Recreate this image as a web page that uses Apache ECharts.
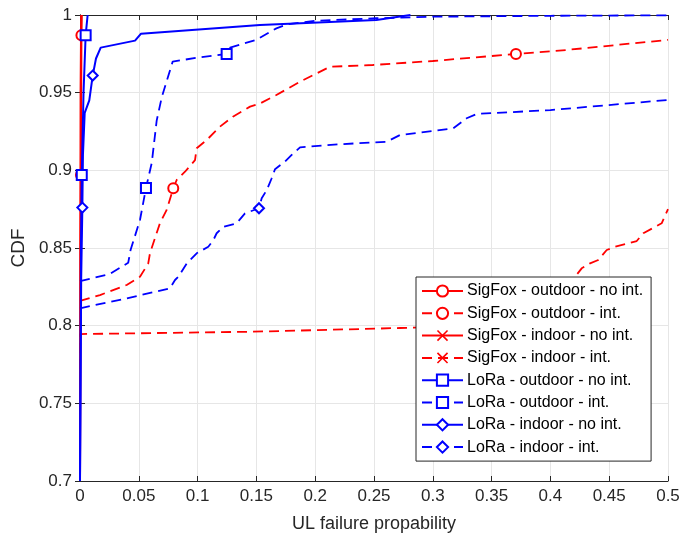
<!DOCTYPE html>
<html>
<head>
<meta charset="utf-8">
<script src="https://cdn.jsdelivr.net/npm/echarts@6.0.0/dist/echarts.min.js"></script>
<style>
  html, body { margin: 0; padding: 0; background: #fff; }
  #chart { width: 683px; height: 538px; }
</style>
</head>
<body>
<div id="chart"></div>
<script>
// values
const names = [
  'SigFox - outdoor - no int.',
  'SigFox - outdoor - int.',
  'SigFox - indoor - no int.',
  'SigFox - indoor - int.',
  'LoRa - outdoor - no int.',
  'LoRa - outdoor - int.',
  'LoRa - indoor - no int.',
  'LoRa - indoor - int.'
];

const sfOutNoIntX = [0, 0.0004, 0.0008, 0.001, 0.0012, 0.0015];
const sfOutNoIntY = [0.7, 0.85, 0.897, 0.95, 0.987, 1];
const sfOutNoIntMarks = [2, 4];

const sfOutIntX = [0, 0.017, 0.0397, 0.051, 0.058, 0.0595, 0.0652, 0.068, 0.0737, 0.0793, 0.0822, 0.0893, 0.0978, 0.0992, 0.1077, 0.119, 0.130, 0.1446, 0.153, 0.167, 0.187, 0.2126, 0.249, 0.300, 0.3707, 0.414, 0.5];
const sfOutIntY = [0.8159, 0.8197, 0.8262, 0.8315, 0.840, 0.8466, 0.8597, 0.866, 0.8745, 0.8884, 0.8938, 0.8991, 0.9066, 0.9142, 0.9195, 0.9281, 0.9345, 0.941, 0.943, 0.9485, 0.957, 0.9667, 0.9678, 0.9704, 0.9749, 0.9775, 0.984];
const sfOutIntMarks = [9, 24];

const sfInNoIntX = [0, 0.0005, 0.001];
const sfInNoIntY = [0.7, 0.95, 1];
const sfInNoIntMarks = [];

const sfInIntX = [0, 0, 0.147, 0.272, 0.35, 0.40, 0.41, 0.421, 0.4266, 0.4337, 0.4407, 0.4479, 0.455, 0.4734, 0.479, 0.4946, 0.5];
const sfInIntY = [0.7, 0.7946, 0.7961, 0.7985, 0.800, 0.803, 0.815, 0.8315, 0.8369, 0.8401, 0.8423, 0.8487, 0.8508, 0.8545, 0.8595, 0.8659, 0.875];
const sfInIntMarks = [];

const loOutNoIntX = [0, 0.0008, 0.0015, 0.003, 0.0048, 0.0065];
const loOutNoIntY = [0.7, 0.85, 0.897, 0.95, 0.987, 1];
const loOutNoIntMarks = [2, 4];

const loOutIntX = [0, 0.0255, 0.041, 0.043, 0.051, 0.0561, 0.061, 0.0652, 0.0695, 0.0788, 0.102, 0.1247, 0.1276, 0.150, 0.167, 0.176, 0.201, 0.252, 0.300, 0.40, 0.5];
const loOutIntY = [0.8287, 0.8333, 0.8405, 0.8487, 0.868, 0.8886, 0.9047, 0.932, 0.947, 0.970, 0.9728, 0.9749, 0.979, 0.984, 0.9914, 0.994, 0.9963, 0.9979, 0.9989, 0.9995, 0.9998];
const loOutIntMarks = [5, 11];

const loInNoIntX = [0, 0.001, 0.002, 0.0025, 0.004, 0.0079, 0.0108, 0.0136, 0.0176, 0.0468, 0.0519, 0.153, 0.252, 0.281];
const loInNoIntY = [0.7, 0.83, 0.876, 0.91, 0.937, 0.945, 0.961, 0.972, 0.979, 0.9835, 0.988, 0.9936, 0.9968, 1];
const loInNoIntMarks = [2, 6];

const loInIntX = [0, 0.0397, 0.0765, 0.0808, 0.0836, 0.0907, 0.0992, 0.1091, 0.1134, 0.1162, 0.1219, 0.1332, 0.1403, 0.1522, 0.1545, 0.1588, 0.163, 0.1658, 0.1743, 0.18, 0.1871, 0.221, 0.2608, 0.272, 0.3174, 0.3288, 0.3373, 0.40, 0.5];
const loInIntY = [0.8112, 0.8176, 0.824, 0.8294, 0.8315, 0.840, 0.8466, 0.8508, 0.8551, 0.8595, 0.8637, 0.8659, 0.8723, 0.8756, 0.882, 0.8873, 0.8949, 0.9007, 0.9056, 0.9099, 0.9148, 0.9168, 0.9184, 0.9227, 0.927, 0.9335, 0.9363, 0.9388, 0.9453];
const loInIntMarks = [13];

const RED = '#ff0000';
const BLUE = '#0000ff';
const AXIS = '#262626';
const FONT = '"Liberation Sans", Arial, Helvetica, sans-serif';
const CROSS = 'path://M0,1 L1,0 L5,4 L9,0 L10,1 L6,5 L10,9 L9,10 L5,6 L1,10 L0,9 L4,5 Z';

const toData = (xs, ys, marks) =>
  xs.map((x, i) => marks.includes(i) ? { value: [x, ys[i]] } : { value: [x, ys[i]], symbol: 'none' });

const makeSeries = (name, xs, ys, marks, color, dashed, symbol) => ({
  name: name,
  type: 'line',
  data: toData(xs, ys, marks),
  symbol: symbol,
  symbolSize: 10,
  showSymbol: true,
  showAllSymbol: true,
  xAxisIndex: 0,
  yAxisIndex: 0,
  lineStyle: { color: color, width: dashed ? 1.8 : 2, type: dashed ? [10, 6] : 'solid' },
  itemStyle: { color: color, borderWidth: 1.5 },
  emphasis: { disabled: true },
  clip: true
});

const chart = echarts.init(document.getElementById('chart'), null, { renderer: 'canvas' });

const tickLabel = { color: AXIS, fontSize: 17, fontFamily: FONT };

chart.setOption({
  animation: false,
  backgroundColor: '#fff',
  grid: { left: 80, right: 15, top: 15, bottom: 57 },
  legend: {
    orient: 'vertical',
    left: 416,
    top: 277,
    itemWidth: 41,
    itemHeight: 14,
    itemGap: 6.3,
    padding: [6, 8, 6, 5],
    backgroundColor: '#fff',
    borderColor: AXIS,
    borderWidth: 1,
    textStyle: { color: '#000', fontSize: 16, fontFamily: FONT, padding: [0, 0, 0, -1] },
    data: names
  },
  xAxis: [
    {
      type: 'value', min: 0, max: 0.5, interval: 0.05,
      name: 'UL failure propability', nameLocation: 'middle', nameGap: 34,
      nameTextStyle: { color: AXIS, fontSize: 18, fontFamily: FONT },
      axisLine: { show: true, lineStyle: { color: AXIS, width: 1 } },
      axisTick: { show: true, inside: true, length: 5, lineStyle: { color: AXIS } },
      axisLabel: Object.assign({ margin: 7 }, tickLabel),
      splitLine: { show: true, lineStyle: { color: '#e6e6e6', width: 1 } }
    },
    {
      type: 'value', min: 0, max: 0.5, interval: 0.05, position: 'top',
      axisLine: { show: true, lineStyle: { color: AXIS, width: 1 } },
      axisTick: { show: true, inside: true, length: 5, lineStyle: { color: AXIS } },
      axisLabel: { show: false },
      splitLine: { show: false }
    }
  ],
  yAxis: [
    {
      type: 'value', min: 0.7, max: 1, interval: 0.05,
      name: 'CDF', nameLocation: 'middle', nameGap: 46,
      nameTextStyle: { color: AXIS, fontSize: 19, fontFamily: FONT },
      axisLine: { show: true, lineStyle: { color: AXIS, width: 1 } },
      axisTick: { show: true, inside: true, length: 5, lineStyle: { color: AXIS } },
      axisLabel: Object.assign({ margin: 8 }, tickLabel),
      splitLine: { show: true, lineStyle: { color: '#e6e6e6', width: 1 } }
    },
    {
      type: 'value', min: 0.7, max: 1, interval: 0.05, position: 'right',
      axisLine: { show: true, lineStyle: { color: AXIS, width: 1 } },
      axisTick: { show: true, inside: true, length: 5, lineStyle: { color: AXIS } },
      axisLabel: { show: false },
      splitLine: { show: false }
    }
  ],
  series: [
    makeSeries(names[0], sfOutNoIntX, sfOutNoIntY, sfOutNoIntMarks, RED, false, 'emptyCircle'),
    makeSeries(names[1], sfOutIntX, sfOutIntY, sfOutIntMarks, RED, true, 'emptyCircle'),
    makeSeries(names[2], sfInNoIntX, sfInNoIntY, sfInNoIntMarks, RED, false, CROSS),
    makeSeries(names[3], sfInIntX, sfInIntY, sfInIntMarks, RED, true, CROSS),
    makeSeries(names[4], loOutNoIntX, loOutNoIntY, loOutNoIntMarks, BLUE, false, 'emptyRect'),
    makeSeries(names[5], loOutIntX, loOutIntY, loOutIntMarks, BLUE, true, 'emptyRect'),
    makeSeries(names[6], loInNoIntX, loInNoIntY, loInNoIntMarks, BLUE, false, 'emptyDiamond'),
    makeSeries(names[7], loInIntX, loInIntY, loInIntMarks, BLUE, true, 'emptyDiamond')
  ]
});
</script>
</body>
</html>
